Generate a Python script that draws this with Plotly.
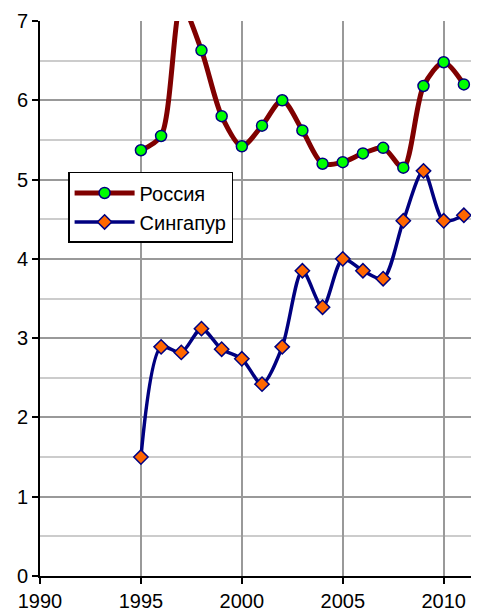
import plotly.graph_objects as go

years = list(range(1995, 2012))
russia = [5.37, 5.55, 7.2, 6.63, 5.80, 5.42, 5.68, 6.00, 5.62, 5.20, 5.22, 5.33, 5.40, 5.15, 6.18, 6.48, 6.20]
singapore = [1.50, 2.89, 2.82, 3.12, 2.86, 2.74, 2.42, 2.89, 3.85, 3.39, 4.00, 3.85, 3.75, 4.48, 5.11, 4.48, 4.55]
x_ticks = [1990, 1995, 2000, 2005, 2010]
y_ticks = [0, 1, 2, 3, 4, 5, 6, 7]

fig = go.Figure()
fig.add_trace(go.Scatter(
    x=years, y=russia, name="Россия", mode="lines+markers",
    line=dict(color="#800000", width=5, shape="spline", smoothing=0.8),
    marker=dict(symbol="circle", size=11, color="#00FF00", line=dict(color="#000080", width=1.5)),
    cliponaxis=True,
))
fig.add_trace(go.Scatter(
    x=years, y=singapore, name="Сингапур", mode="lines+markers",
    line=dict(color="#000080", width=3.5, shape="spline", smoothing=0.8),
    marker=dict(symbol="diamond", size=11, color="#FF6600", line=dict(color="#000080", width=1.5)),
    cliponaxis=True,
))

fig.update_layout(
    width=471, height=605,
    margin=dict(l=32, r=0, t=13, b=37, autoexpand=False),
    paper_bgcolor="white", plot_bgcolor="white",
    font=dict(family="Liberation Sans, Arial, sans-serif", size=20, color="black"),
    showlegend=True,
    legend=dict(
        x=0.064, y=0.728, xanchor="left", yanchor="top",
        bgcolor="white", bordercolor="black", borderwidth=1.5,
        font=dict(size=20), tracegroupgap=0, itemwidth=60,
    ),
)
fig.update_xaxes(
    range=[1990, 2011.75], tickvals=x_ticks, automargin=False,
    showline=True, linecolor="black", linewidth=2,
    ticks="outside", ticklen=6, tickcolor="black", tickwidth=2,
    showgrid=True, gridcolor="#999999", gridwidth=2,
    zeroline=False,
)
fig.update_yaxes(
    range=[0, 7], tickvals=y_ticks, automargin=False,
    showline=True, linecolor="black", linewidth=2,
    ticks="outside", ticklen=6, tickcolor="black", tickwidth=2,
    showgrid=True, gridcolor="#999999", gridwidth=2,
    minor=dict(dtick=0.5, showgrid=True, gridcolor="#cccccc", gridwidth=2, ticks=""),
    zeroline=False,
)

fig.write_html("out.html")
